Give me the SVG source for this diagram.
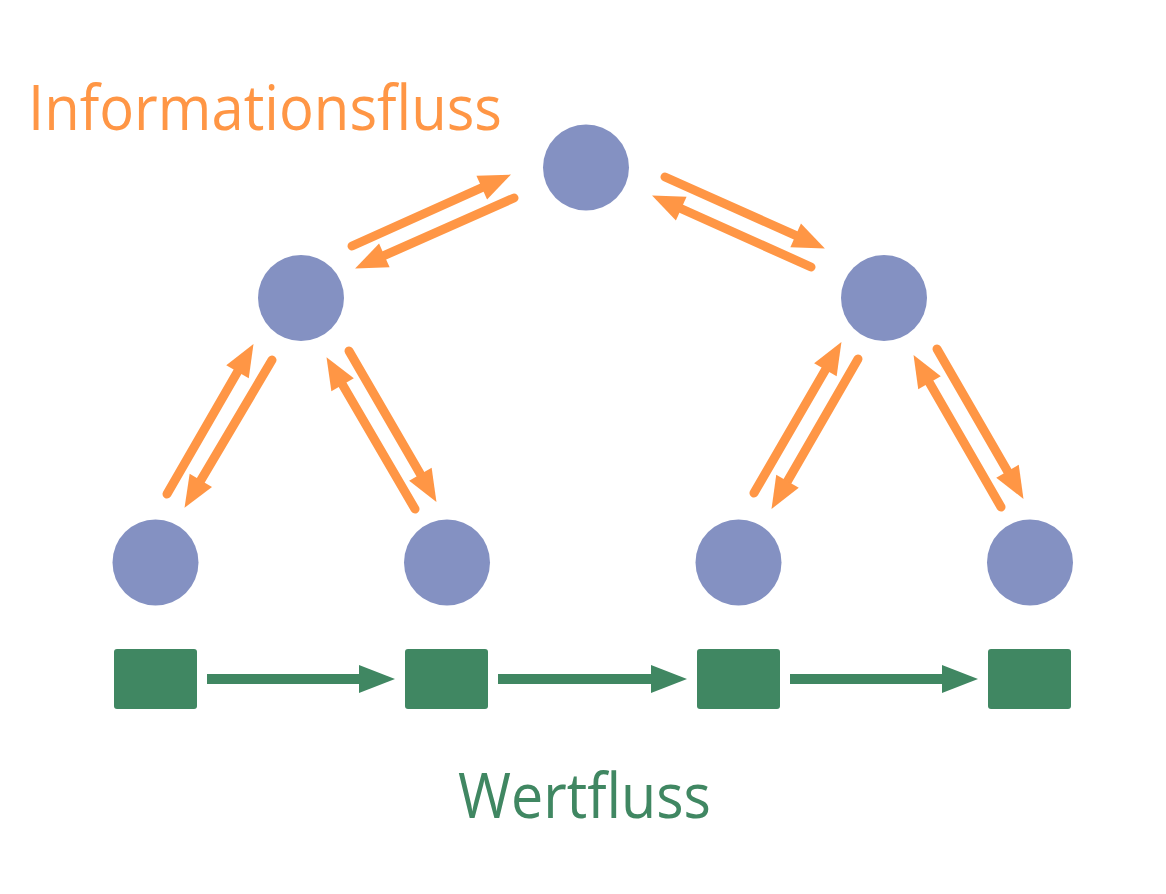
<svg xmlns="http://www.w3.org/2000/svg" width="1166" height="894" viewBox="0 0 1166 894">
<defs>
<marker id="oh" markerUnits="userSpaceOnUse" orient="auto" markerWidth="40" markerHeight="30" refX="3" refY="0" viewBox="0 -15 40 30" overflow="visible"><path d="M0,-13 L32,0 L0,13 z" fill="#FF9645"/></marker>
<marker id="gh" markerUnits="userSpaceOnUse" orient="auto" markerWidth="40" markerHeight="30" refX="3" refY="0" viewBox="0 -15 40 30" overflow="visible"><path d="M0,-14 L36,0 L0,14 z" fill="#408762"/></marker>
<style>
.c{fill:#8491C2}
.s{fill:#408762}
.o{stroke:#FF9645;stroke-width:9;stroke-linecap:round;fill:none;marker-end:url(#oh)}
.g{stroke:#408762;stroke-width:10;fill:none;marker-end:url(#gh)}
.t{font-family:"Open Sans","Noto Sans",sans-serif;font-size:62px}
</style>
</defs>
<rect width="1166" height="894" fill="#fff"/>
<text class="t" x="28" y="130" fill="#FF9645" textLength="474" lengthAdjust="spacingAndGlyphs">Informationsfluss</text>
<text class="t" x="458" y="818" fill="#408762" textLength="253" lengthAdjust="spacingAndGlyphs">Wertfluss</text>
<g id="n-top"><circle class="c" cx="586" cy="167.5" r="43"/></g>
<g id="n-midL"><circle class="c" cx="301" cy="298" r="43"/></g>
<g id="n-midR"><circle class="c" cx="884" cy="298" r="43"/></g>
<g id="n-b1"><circle class="c" cx="155.5" cy="562.5" r="43"/></g>
<g id="n-b2"><circle class="c" cx="447" cy="562.5" r="43"/></g>
<g id="n-b3"><circle class="c" cx="738.5" cy="562.5" r="43"/></g>
<g id="n-b4"><circle class="c" cx="1030" cy="562.5" r="43"/></g>
<g id="s1"><rect class="s" x="114" y="649" width="83" height="60" rx="3"/></g>
<g id="s2"><rect class="s" x="405" y="649" width="83" height="60" rx="3"/></g>
<g id="s3"><rect class="s" x="697" y="649" width="83" height="60" rx="3"/></g>
<g id="s4"><rect class="s" x="988" y="649" width="83" height="60" rx="3"/></g>
<g id="connectors">
<line class="o" x1="352" y1="246" x2="484.5" y2="186.5"/>
<line class="o" x1="514" y1="198" x2="381.6" y2="256.7"/>
<line class="o" x1="665" y1="177" x2="798.4" y2="236.6"/>
<line class="o" x1="811" y1="267" x2="678.5" y2="207.5"/>
<line class="o" x1="167" y1="494" x2="239" y2="369.2"/>
<line class="o" x1="272" y1="360" x2="199.3" y2="482.9"/>
<line class="o" x1="415" y1="509" x2="341.1" y2="382.2"/>
<line class="o" x1="349" y1="351" x2="421.9" y2="476.8"/>
<line class="o" x1="754" y1="493" x2="826.9" y2="367.2"/>
<line class="o" x1="858" y1="359" x2="786" y2="483.8"/>
<line class="o" x1="1001" y1="507" x2="928" y2="380.2"/>
<line class="o" x1="937" y1="349" x2="1009" y2="473.8"/>
<line class="g" x1="207" y1="679" x2="362" y2="679"/>
<line class="g" x1="498" y1="679" x2="654" y2="679"/>
<line class="g" x1="790" y1="679" x2="945" y2="679"/>
</g>
</svg>
